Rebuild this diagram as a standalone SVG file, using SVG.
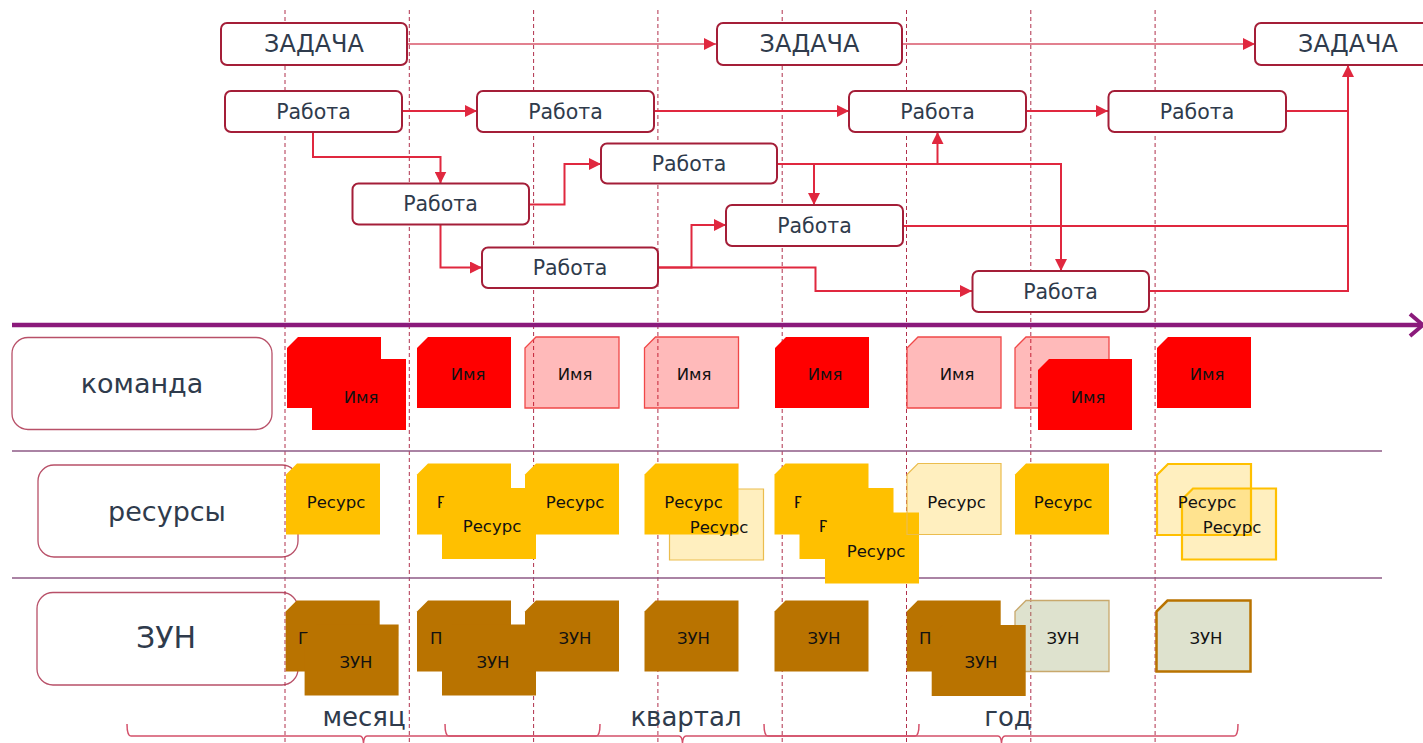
<svg xmlns="http://www.w3.org/2000/svg" xmlns:xlink="http://www.w3.org/1999/xlink" width="1423" height="743" viewBox="0 0 1423 743">
<style>
text{font-family:"DejaVu Sans","Liberation Sans",sans-serif}
.node rect{fill:#fff;stroke:#a41e38;stroke-width:2}
.nt{fill:#2f3b4c;text-anchor:middle;font-size:20.5px}
.tt{fill:#2f3b4c;text-anchor:middle;font-size:24px}
.cat rect{fill:none;stroke:#b85068;stroke-width:1.3}
.catt{fill:#2f3b4c;text-anchor:middle;font-size:27px}
.conn{fill:none;stroke:#e0283f;stroke-width:2}
.thin{stroke:#d9566a;stroke-width:1.5}
.vd{stroke:#b0304c;stroke-width:1;stroke-dasharray:4 3}
.sep{stroke:#8e5a86;stroke-width:1.5}
.red{fill:#ff0000}
.pink{fill:#ff0000;fill-opacity:.27;stroke:#f04848;stroke-width:1.3}
.yel{fill:#ffc000}
.ly{fill:#ffc000;fill-opacity:.25;stroke:#ebbd4e;stroke-width:1.2}
.lyb{fill:#ffc000;fill-opacity:.25;stroke:#ffc000;stroke-width:2.2}
.brn{fill:#b97300}
.lg{fill:#9aa86a;fill-opacity:.33;stroke:#c8a86c;stroke-width:1.3}
.lgb{fill:#9aa86a;fill-opacity:.33;stroke:#b97300;stroke-width:2.5}
.ct{fill:#111;text-anchor:middle;font-size:16.5px}
.cl{fill:#111;font-size:16.5px}
.brace{fill:none;stroke:#d4506a;stroke-width:1.5}
.lbl{fill:#2f3b4c;text-anchor:middle;font-size:26px}
</style>
<defs>
<marker id="ah" markerUnits="userSpaceOnUse" markerWidth="12" markerHeight="12" refX="12" refY="6" orient="auto">
<path d="M0,0L12,6L0,12Z" fill="#e0283f"/>
</marker>
<path id="cd" d="M11,0H94V71H0V11Z"/>
</defs>

<g id="categories" class="cat">
<g id="cat-team"><rect x="12" y="337.5" width="260" height="92" rx="16"/><text class="catt" x="142" y="393">команда</text></g>
<g id="cat-res"><rect x="38" y="465" width="260" height="92" rx="16"/><text class="catt" x="167" y="521">ресурсы</text></g>
<g id="cat-zun"><rect x="37" y="592.5" width="261" height="92.5" rx="16"/><text class="catt" x="166" y="648" style="font-size:30px">ЗУН</text></g>
</g>

<g id="grid">
<line class="vd" x1="285" y1="10" x2="285" y2="743"/>
<line class="vd" x1="409.3" y1="10" x2="409.3" y2="743"/>
<line class="vd" x1="533.6" y1="10" x2="533.6" y2="743"/>
<line class="vd" x1="657.9" y1="10" x2="657.9" y2="743"/>
<line class="vd" x1="782.2" y1="10" x2="782.2" y2="743"/>
<line class="vd" x1="906.5" y1="10" x2="906.5" y2="743"/>
<line class="vd" x1="1030.8" y1="10" x2="1030.8" y2="743"/>
<line class="vd" x1="1155.1" y1="10" x2="1155.1" y2="743"/>
<line class="sep" x1="12" y1="451" x2="1382" y2="451"/>
<line class="sep" x1="12" y1="578" x2="1382" y2="578"/>
</g>

<g id="timeline">
<line x1="12" y1="325" x2="1420" y2="325" stroke="#8b1a7b" stroke-width="4.5"/>
<polyline points="1410,314 1423,325 1410,336" fill="none" stroke="#8b1a7b" stroke-width="4"/>
</g>

<g id="connectors" class="conn">
<path class="thin" d="M407,44H716" marker-end="url(#ah)"/>
<path class="thin" d="M902,44H1255" marker-end="url(#ah)"/>
<path d="M402,111H477" marker-end="url(#ah)"/>
<path d="M313,132V157H440.5V183.5" marker-end="url(#ah)"/>
<path d="M529,204.5H564.5V164H601" marker-end="url(#ah)"/>
<path d="M440.5,224.5V267.5H482" marker-end="url(#ah)"/>
<path d="M654,111H849" marker-end="url(#ah)"/>
<path d="M777,164H1061V271" marker-end="url(#ah)"/>
<path d="M814,164V205" marker-end="url(#ah)"/>
<path d="M937.5,164V132" marker-end="url(#ah)"/>
<path d="M658,267.5H691.5V225H726" marker-end="url(#ah)"/>
<path d="M658,267.5H815.5V291H972" marker-end="url(#ah)"/>
<path d="M1026,111H1108" marker-end="url(#ah)"/>
<path d="M1286,111H1348"/>
<path d="M903,226H1348"/>
<path d="M1149,291H1348V65" marker-end="url(#ah)"/>
</g>

<g id="task1" class="node"><rect x="221" y="23" width="186" height="42" rx="6"/><text class="tt" x="314" y="52">ЗАДАЧА</text></g>
<g id="task2" class="node"><rect x="717" y="23" width="185" height="42" rx="6"/><text class="tt" x="809.5" y="52">ЗАДАЧА</text></g>
<g id="task3" class="node"><rect x="1255" y="23" width="186" height="42" rx="6"/><text class="tt" x="1348" y="52">ЗАДАЧА</text></g>
<g id="work1" class="node"><rect x="225" y="91" width="177" height="41" rx="6"/><text class="nt" x="313.5" y="118.5">Работа</text></g>
<g id="work2" class="node"><rect x="477" y="91" width="177" height="41" rx="6"/><text class="nt" x="565.5" y="118.5">Работа</text></g>
<g id="work3" class="node"><rect x="849" y="91" width="177" height="41" rx="6"/><text class="nt" x="937.5" y="118.5">Работа</text></g>
<g id="work4" class="node"><rect x="1108.5" y="91" width="177.5" height="41" rx="6"/><text class="nt" x="1197" y="118.5">Работа</text></g>
<g id="work5" class="node"><rect x="601" y="143.5" width="176" height="40" rx="6"/><text class="nt" x="689" y="170.5">Работа</text></g>
<g id="work6" class="node"><rect x="352.5" y="183.5" width="176.5" height="41" rx="6"/><text class="nt" x="440.5" y="211">Работа</text></g>
<g id="work7" class="node"><rect x="726" y="205" width="177" height="41" rx="6"/><text class="nt" x="814.5" y="232.5">Работа</text></g>
<g id="work8" class="node"><rect x="482" y="247.5" width="176" height="40.5" rx="6"/><text class="nt" x="570" y="275">Работа</text></g>
<g id="work9" class="node"><rect x="972.5" y="271" width="176.5" height="41" rx="6"/><text class="nt" x="1060.5" y="298.5">Работа</text></g>

<g id="team-cards">
<g id="team1"><use href="#cd" x="287" y="337" class="red"/><use href="#cd" x="312" y="359" class="red"/><text class="ct" x="361" y="403">Имя</text></g>
<g id="team2"><use href="#cd" x="417" y="337" class="red"/><text class="ct" x="468" y="380">Имя</text></g>
<g id="team3"><use href="#cd" x="525" y="337" class="pink"/><text class="ct" x="575" y="380">Имя</text></g>
<g id="team4"><use href="#cd" x="644.5" y="337" class="pink"/><text class="ct" x="694" y="380">Имя</text></g>
<g id="team5"><use href="#cd" x="775" y="337" class="red"/><text class="ct" x="825" y="380">Имя</text></g>
<g id="team6"><use href="#cd" x="907" y="337" class="pink"/><text class="ct" x="957" y="380">Имя</text></g>
<g id="team7"><use href="#cd" x="1015" y="337" class="pink"/><use href="#cd" x="1038" y="359" class="red"/><text class="ct" x="1088" y="403">Имя</text></g>
<g id="team8"><use href="#cd" x="1157" y="337" class="red"/><text class="ct" x="1207" y="380">Имя</text></g>
</g>

<g id="resource-cards">
<g id="res1"><use href="#cd" x="286" y="463.5" class="yel"/><text class="ct" x="336" y="508">Ресурс</text></g>
<g id="res2"><use href="#cd" x="417" y="463.5" class="yel"/><text class="ct" x="466" y="508">Ресурс</text><use href="#cd" x="442" y="488" class="yel"/><text class="ct" x="492" y="532">Ресурс</text><use href="#cd" x="525" y="463.5" class="yel"/><text class="ct" x="575" y="508">Ресурс</text></g>
<g id="res3"><use href="#cd" x="669.5" y="489" class="ly"/><use href="#cd" x="644.5" y="463.5" class="yel"/><text class="ct" x="693.5" y="508">Ресурс</text><text class="ct" x="719" y="532.5">Ресурс</text></g>
<g id="res4"><use href="#cd" x="774.5" y="463.5" class="yel"/><text class="ct" x="823" y="508">Ресурс</text><use href="#cd" x="799.5" y="488" class="yel"/><text class="ct" x="848" y="532">Ресурс</text><use href="#cd" x="825" y="512.5" class="yel"/><text class="ct" x="876" y="557">Ресурс</text></g>
<g id="res5"><use href="#cd" x="907" y="463.5" class="ly"/><text class="ct" x="956.5" y="508">Ресурс</text></g>
<g id="res6"><use href="#cd" x="1015" y="463.5" class="yel"/><text class="ct" x="1063" y="508">Ресурс</text></g>
<g id="res7"><use href="#cd" x="1157" y="464" class="lyb"/><use href="#cd" x="1182" y="488.5" class="lyb"/><text class="ct" x="1207" y="508">Ресурс</text><text class="ct" x="1232" y="532.5">Ресурс</text></g>
</g>

<g id="skill-cards">
<g id="zun1"><use href="#cd" x="285.7" y="600.5" class="brn"/><text class="cl" x="298" y="644">П</text><use href="#cd" x="304.6" y="624.5" class="brn"/><text class="ct" x="356" y="668">ЗУН</text></g>
<g id="zun2"><use href="#cd" x="417" y="600.5" class="brn"/><text class="cl" x="430" y="644">П</text><use href="#cd" x="442" y="624.5" class="brn"/><text class="ct" x="493" y="668">ЗУН</text><use href="#cd" x="525" y="600.5" class="brn"/><text class="ct" x="575" y="644">ЗУН</text></g>
<g id="zun3"><use href="#cd" x="644.5" y="600.5" class="brn"/><text class="ct" x="693.5" y="644">ЗУН</text></g>
<g id="zun4"><use href="#cd" x="774.5" y="600.5" class="brn"/><text class="ct" x="824" y="644">ЗУН</text></g>
<g id="zun6"><use href="#cd" x="1015" y="600.5" class="lg"/><text class="ct" x="1063" y="644">ЗУН</text></g>
<g id="zun5"><use href="#cd" x="906.7" y="600.5" class="brn"/><text class="cl" x="919" y="644">П</text><use href="#cd" x="931.7" y="625" class="brn"/><text class="ct" x="981" y="668">ЗУН</text></g>
<g id="zun7"><use href="#cd" x="1156.5" y="600.5" class="lgb"/><text class="ct" x="1206" y="644">ЗУН</text></g>
</g>

<g id="periods">
<path class="brace" d="M127,724Q127,736 131,736H360Q363,736 363.5,743Q364,736 367,736H596Q600,736 600,724"/>
<path class="brace" d="M445,724Q445,736 449,736H679Q682,736 682.5,743Q683,736 686,736H915Q919,736 919,724"/>
<path class="brace" d="M764,724Q764,736 768,736H998Q1001,736 1001.5,743Q1002,736 1005,736H1234Q1238,736 1238,724"/>
<text class="lbl" x="364" y="726">месяц</text>
<text class="lbl" x="686" y="726">квартал</text>
<text class="lbl" x="1008" y="726">год</text>
</g>
</svg>
